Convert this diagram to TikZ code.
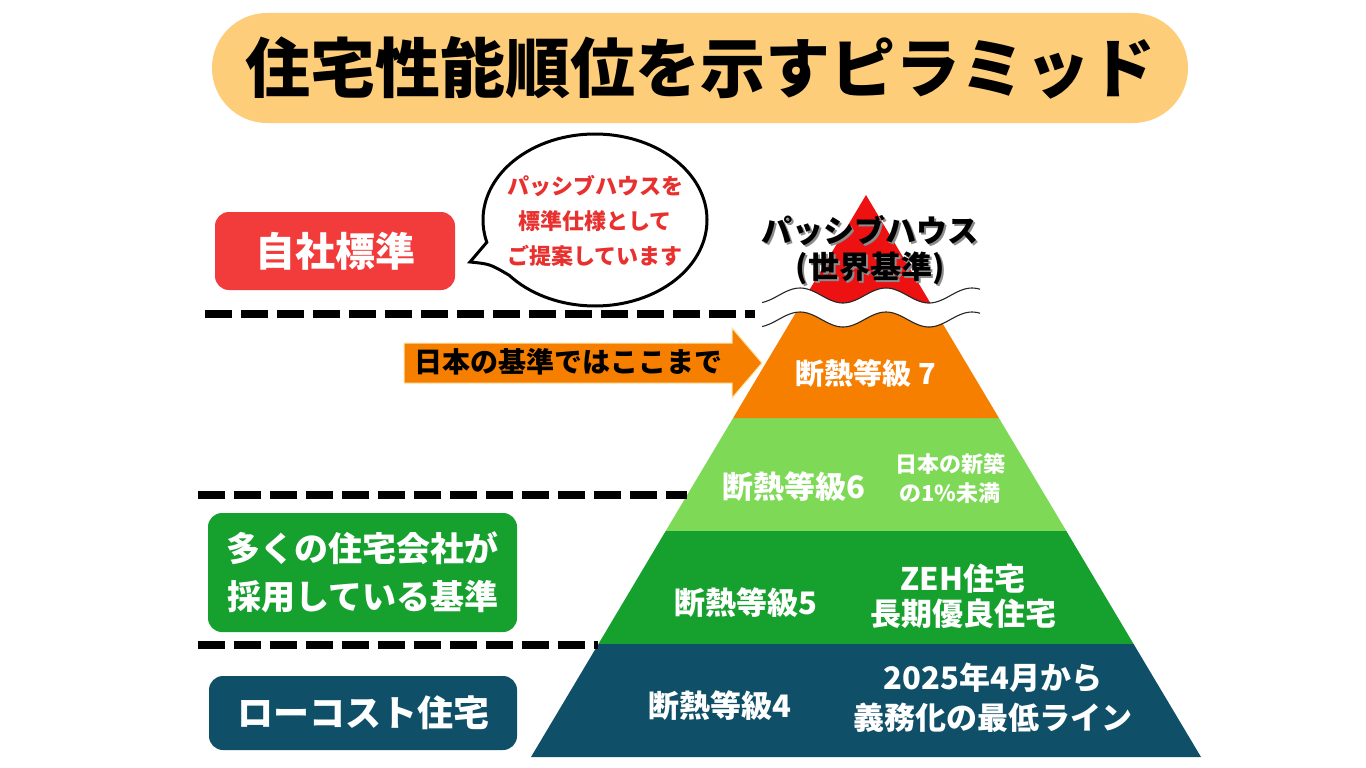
\documentclass[tikz,border=0pt]{standalone}
\usepackage{fontspec}
\setmainfont{Noto Sans CJK JP}
\definecolor{banner}{HTML}{FDCD7A}
\definecolor{redbox}{HTML}{F23B3B}
\definecolor{redtri}{HTML}{EE1111}
\definecolor{orng}{HTML}{F77F00}
\definecolor{lgreen}{HTML}{7ED957}
\definecolor{dgreen}{HTML}{16A02E}
\definecolor{navy}{HTML}{0F5068}
\definecolor{bubred}{HTML}{E8302F}
\definecolor{arrowedge}{HTML}{FCE3A8}
\begin{document}
\begin{tikzpicture}[x=1pt,y=-1pt]
\tikzset{
  dashline/.style={line width=8pt, dash pattern=on 27pt off 9pt},
  wave/.style={line width=1.1pt, black!85},
  lbl/.style={inner sep=0pt, text=white, align=center},
  box/.style={inner sep=0pt, text=white, rounded corners=14pt, align=center},
}
\useasboundingbox[fill=white] (0,0) rectangle (1366,768);

% title banner
\node[fill=banner, rounded corners=55pt, minimum width=976pt, minimum height=110pt, inner sep=0pt,
      font=\bfseries\fontsize{65}{70}\selectfont] (title) at (700,68) {住宅性能順位を示すピラミッド};

% pyramid layers
\fill[lgreen] (733.1,418) -- (998.9,418) -- (1066.3,531) -- (665.7,531) -- cycle;
\fill[dgreen] (665.7,531) -- (1066.3,531) -- (1133.6,644) -- (598.4,644) -- cycle;
\fill[navy] (598.4,644) -- (1133.6,644) -- (1201,757) -- (531,757) -- cycle;
\begin{scope}
  \clip (650,326) -- plot[domain=762:980, samples=80, smooth] (\x,{319.5+7.5*cos(4.18605*(\x-843))}) -- (1100,313) -- (1100,430) -- (650,430) -- cycle;
  \fill[orng] (866,195) -- (998.9,418) -- (733.1,418) -- cycle;
\end{scope}
\begin{scope}
  \clip (762,150) -- plot[domain=762:980, samples=80, smooth] (\x,{295.5+7.5*cos(4.18605*(\x-843))}) -- (980,150) -- cycle;
  \fill[redtri] (866,195) -- (998.9,418) -- (733.1,418) -- cycle;
\end{scope}
\draw[wave] plot[domain=762:980, samples=80, smooth] (\x,{295.5+7.5*cos(4.18605*(\x-843))});
\draw[wave] plot[domain=762:980, samples=80, smooth] (\x,{319.5+7.5*cos(4.18605*(\x-843))});

% top label
\node[inner sep=0pt, align=center, text=black!45, font=\bfseries\fontsize{31}{36}\selectfont] (phshadow) at (872,252) {パッシブハウス\\(世界基準)};
\node[inner sep=0pt, align=center, text=black, font=\bfseries\fontsize{31}{36}\selectfont] (ph) at (870,250) {パッシブハウス\\(世界基準)};

% layer labels
\node[lbl, font=\bfseries\fontsize{29}{34}\selectfont] (l7) at (866,373) {断熱等級 7};
\node[lbl, font=\bfseries\fontsize{31}{36}\selectfont] (l6) at (794,487) {断熱等級6};
\node[lbl, font=\bfseries\fontsize{22}{29}\selectfont] (l6n) at (950,479) {日本の新築\\の1\%未満};
\node[lbl, font=\bfseries\fontsize{31}{36}\selectfont] (l5) at (746,603) {断熱等級5};
\node[lbl, font=\bfseries\fontsize{31}{35}\selectfont] (l5n) at (963,596) {ZEH住宅\\長期優良住宅};
\node[lbl, font=\bfseries\fontsize{31}{40}\selectfont] (l4) at (720,706) {断熱等級4};
\node[lbl, font=\bfseries\fontsize{31}{40}\selectfont] (l4n) at (993,698) {2025年4月から\\義務化の最低ライン};

% dashed separators
\coordinate (d1a) at (205,314); \coordinate (d1b) at (755,314);
\coordinate (d2a) at (198,495); \coordinate (d2b) at (687,495);
\coordinate (d3a) at (198,645); \coordinate (d3b) at (598,645);
\draw[dashline] (d1a) -- (d1b);
\draw[dashline] (d2a) -- (d2b);
\draw[dashline] (d3a) -- (d3b);

% arrow
\fill[orng, draw=arrowedge, line width=1pt] (404,343) -- (732,343) -- (732,328) -- (762,363) -- (732,398) -- (732,383) -- (404,383) -- cycle;
\node[inner sep=0pt, text=black, font=\bfseries\fontsize{28}{32}\selectfont] (arrowtxt) at (568,362) {日本の基準ではここまで};

% left boxes
\node[box, fill=redbox, minimum width=240pt, minimum height=78pt, font=\bfseries\fontsize{40}{44}\selectfont] (own) at (335,251) {自社標準};
\node[box, fill=dgreen, minimum width=309pt, minimum height=119pt, font=\bfseries\fontsize{34}{48}\selectfont] (many) at (362.5,572.5) {多くの住宅会社が\\採用している基準};
\node[box, fill=navy, minimum width=308pt, minimum height=74pt, font=\bfseries\fontsize{36}{40}\selectfont] (lowcost) at (363,713) {ローコスト住宅};

% speech bubble
\draw[line width=3pt, fill=white] (595,220) ++(140:112 and 86)
  arc[start angle=140, end angle=-195, x radius=112, y radius=86]
  .. controls (478,252) .. (470,262) .. controls (490,264) .. cycle;
\node[inner sep=0pt, align=center, text=bubred, font=\bfseries\fontsize{22}{35}\selectfont] (bubble) at (595,221) {パッシブハウスを\\標準仕様として\\ご提案しています};
\end{tikzpicture}
\end{document}
